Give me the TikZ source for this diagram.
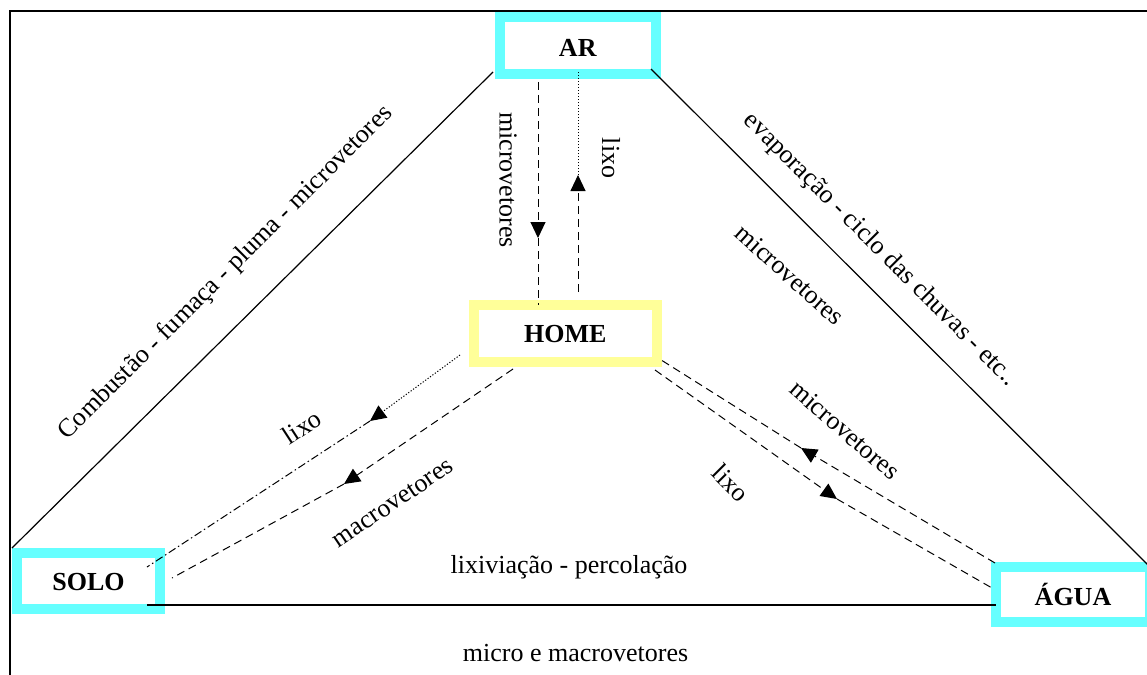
\documentclass[tikz,border=0pt]{standalone}
\usepackage{fontspec}
\setmainfont{Liberation Serif}
\usetikzlibrary{arrows.meta,calc}
\definecolor{boxcyan}{RGB}{102,255,255}
\definecolor{boxyellow}{RGB}{255,255,153}
\begin{document}
\begin{tikzpicture}[x=1pt,y=-1pt,
  every node/.style={font=\fontsize{26}{30}\selectfont, inner sep=0pt, outer sep=0pt},
  place/.style={draw=#1, line width=10pt, fill=white, text depth=0pt, font=\fontsize{26}{30}\selectfont\bfseries},
  solidline/.style={line width=1.2pt},
  dashline/.style={line width=1pt, dash pattern=on 8pt off 5pt},
  dotline/.style={line width=1pt, dash pattern=on 1.2pt off 1.8pt},
  dashdotline/.style={line width=1pt, dash pattern=on 8pt off 3pt on 1.5pt off 3pt},
  head/.style={-{Triangle[length=16pt,width=15pt]}}
]
\useasboundingbox (0,0) rectangle (1147,674);

% page frame
\draw[line width=1.5pt] (10,700) -- (10,11) -- (1160,11);

% compartments
\node[place=boxcyan, text height=22pt, minimum width=156.5pt, minimum height=57pt] (ar) at (577.75,45.5) {AR};
\node[place=boxyellow, text height=19pt, minimum width=183.5pt, minimum height=57pt] (home) at (565.25,333) {HOME};
\node[place=boxcyan, text height=19pt, minimum width=143pt, minimum height=56pt] (solo) at (88.5,581) {SOLO};
\node[place=boxcyan, text height=22pt, minimum width=154pt, minimum height=55pt] (agua) at (1073,594.5) {ÁGUA};

% triangle of exchanges between the environment compartments
\draw[solidline] ($(ar.south west)+(-6.5,-2)$) -- ($(solo.north west)+(-5,-5)$);
\draw[solidline] ($(ar.south east)+(-5,-5)$) -- (agua.north east);
\draw[solidline] ($(solo.south east)+(-13,-4)$) -- ($(agua.south west)+(0,-17)$);

% arrow tips placed along the flows
\coordinate (v1) at (538,238);
\coordinate (v2) at (578,175);
\coordinate (d1) at (370,421);
\coordinate (d2) at (344,484);
\coordinate (d3) at (801,448);
\coordinate (d4) at (837,499);

% AR <-> HOME
\draw[dashline, head] ($(ar.south)+(-39.75,8)$) -- (v1);
\draw[dashline] (v1) -- ($(home.north)+(-27.25,0)$);
\draw[dashline, head] ($(home.north)+(12.75,-12.5)$) -- (v2);
\draw[dotline] (v2) -- ($(ar.south)+(0.25,-2)$);

% HOME -> SOLO
\draw[dotline, head] ($(home.south west)+(-13.5,-6.5)$) -- (d1);
\draw[dashdotline] (d1) -- ($(solo.north east)+(-13,14)$);
\draw[dashline, head] ($(home.south west)+(39.5,7.5)$) -- (d2);
\draw[dashline] (d2) -- ($(solo.east)+(12,-3)$);

% HOME <-> AGUA
\draw[dashline, head] ($(agua.north west)+(-1,-4)$) -- (d3);
\draw[dashline] (d3) -- ($(home.south east)+(1,-3.5)$);
\draw[dashline, head] ($(home.south east)+(-2,8.5)$) -- (d4);
\draw[dashline] (d4) -- ($(agua.west)+(-4,-6.5)$);

% labels
\node[rotate=45] (lcomb) at (226,273) {Combustão - fumaça - pluma - microvetores};
\node[rotate=-45] (levap) at (880,250) {evaporação - ciclo das chuvas - etc..};
\node[rotate=-42] (lmicroa) at (790,275) {microvetores};
\node[rotate=-41] (lmicrob) at (845,430) {microvetores};
\node[rotate=-45] (llixob) at (731,483) {lixo};
\node[rotate=33] (llixoa) at (302,427) {lixo};
\node[rotate=34] (lmacro) at (393,503) {macrovetores};
\node[rotate=-90] (lmicrov) at (508,180) {microvetores};
\node[rotate=-90] (llixov) at (611,158) {lixo};
\node (lperc) at (569,567) {lixiviação - percolação};
\node (lmm) at (575.5,653) {micro e macrovetores};
\end{tikzpicture}
\end{document}
